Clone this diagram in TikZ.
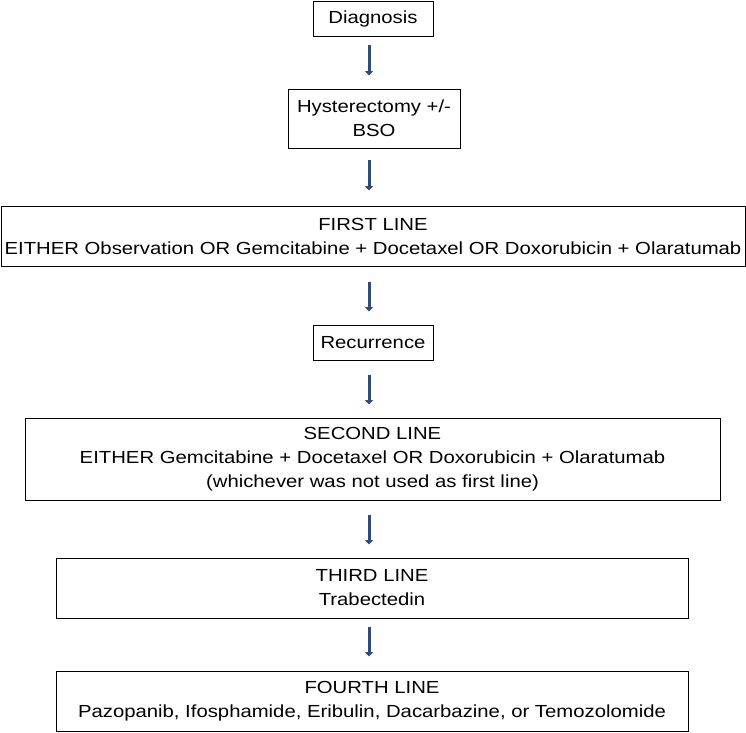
\documentclass[tikz,border=0pt]{standalone}
\usepackage{fontspec}
\setmainfont[FakeStretch=1.16]{Liberation Sans}
\usetikzlibrary{arrows.meta}
\definecolor{arrblue}{HTML}{2F4B7C}
\begin{document}
\begin{tikzpicture}[x=1pt,y=-1pt,
  box/.style={draw=black, line width=1pt, inner sep=0pt, align=center, font=\fontsize{17.5}{24}\selectfont},
  flow/.style={draw=arrblue, line width=3pt, -{Triangle[length=4.5pt,width=8pt]}}]
\useasboundingbox (0,0) rectangle (746,732);
\node[box, minimum width=120pt, minimum height=35pt] (diag) at (373,18.5) {Diagnosis};
\node[box, minimum width=172pt, minimum height=59pt] (hyst) at (374,118.5) {Hysterectomy +/-\\BSO};
\node[box, minimum width=744pt, minimum height=60pt] (first) at (373,236) {FIRST LINE\\EITHER Observation OR Gemcitabine + Docetaxel OR Doxorubicin + Olaratumab};
\node[box, minimum width=120pt, minimum height=35pt] (rec) at (373,342.5) {Recurrence};
\node[box, minimum width=695pt, minimum height=82pt] (second) at (372.5,459) {SECOND LINE\\EITHER Gemcitabine + Docetaxel OR Doxorubicin + Olaratumab\\(whichever was not used as first line)};
\node[box, minimum width=632pt, minimum height=60pt] (third) at (372,588) {THIRD LINE\\Trabectedin};
\node[box, minimum width=632pt, minimum height=60pt] (fourth) at (372,701) {FOURTH LINE\\Pazopanib, Ifosphamide, Eribulin, Dacarbazine, or Temozolomide};
\draw[flow, shorten <=8pt, shorten >=13pt] ([xshift=-4pt]diag.south) -- ([xshift=-4pt]hyst.north -| diag.south);
\draw[flow, shorten <=11pt, shorten >=15pt] ([xshift=-4pt]hyst.south -| diag.south) -- ([xshift=-4pt]first.north -| diag.south);
\draw[flow, shorten <=15pt, shorten >=13pt] ([xshift=-4pt]first.south -| diag.south) -- ([xshift=-4pt]rec.north);
\draw[flow, shorten <=14pt, shorten >=13pt] ([xshift=-4pt]rec.south) -- ([xshift=-4pt]second.north -| rec.south);
\draw[flow, shorten <=14pt, shorten >=13pt] ([xshift=-4pt]second.south -| rec.south) -- ([xshift=-4pt]third.north -| rec.south);
\draw[flow, shorten <=8pt, shorten >=14pt] ([xshift=-4pt]third.south -| rec.south) -- ([xshift=-4pt]fourth.north -| rec.south);
\end{tikzpicture}
\end{document}
